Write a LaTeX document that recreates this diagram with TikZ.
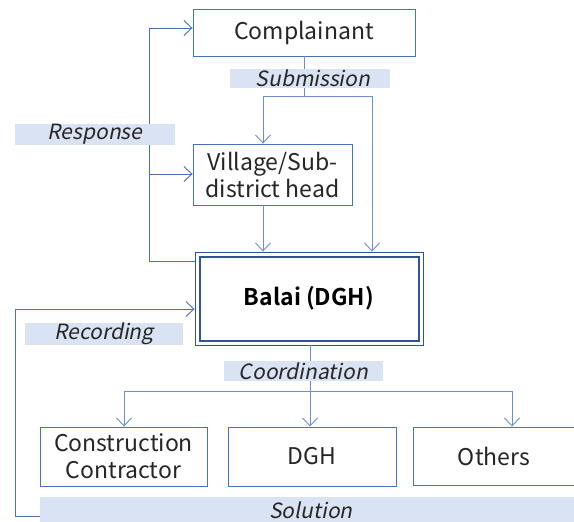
\documentclass[tikz,border=0pt]{standalone}
\usepackage{fontspec}
\setmainfont{Noto Sans CJK JP}[ItalicFont=Noto Sans CJK JP, ItalicFeatures={FakeSlant=0.2}, BoldFont=Noto Sans CJK JP Bold]
\usetikzlibrary{arrows.meta}
\definecolor{boxc}{HTML}{4472C4}
\definecolor{balc}{HTML}{2F5597}
\definecolor{linec}{HTML}{6A90D2}
\definecolor{respc}{HTML}{4A6FB5}
\definecolor{lblc}{HTML}{DAE3F3}
\definecolor{txtc}{HTML}{262626}
\begin{document}
\begin{tikzpicture}[x=1pt,y=-1pt,
  box/.style={draw=boxc, line width=0.9pt, fill=white, text=txtc, align=center, inner sep=0pt, font=\fontsize{23}{27}\selectfont},
  lbl/.style={fill=lblc, text=txtc, inner sep=0pt, font=\fontsize{21}{23}\selectfont\itshape},
  conn/.style={draw=linec, line width=0.9pt},
  arr/.style={conn, -{Straight Barb[length=8pt,width=15pt,line width=0.9pt]}},
  rconn/.style={draw=respc, line width=0.9pt},
  rarr/.style={rconn, -{Straight Barb[length=8pt,width=15pt,line width=0.9pt]}}]
\useasboundingbox (0,0) rectangle (574,522);
\clip (0,0) rectangle (574,522);
\fill[white] (0,0) rectangle (574,522);
% boxes
\node[box, minimum width=222pt, minimum height=47pt] (comp) at (304,32.5) {Complainant};
\node[box, minimum width=159pt, minimum height=61pt] (vill) at (272.5,174.5) {Village/Sub-\\district head};
\node[draw=balc, line width=0.9pt, fill=white, minimum width=228pt, minimum height=93pt, inner sep=0pt] (balai) at (309,298.5) {};
\node[draw=balc, line width=2pt, minimum width=219pt, minimum height=84pt, inner sep=0pt, text=black, font=\fontsize{23}{25}\selectfont\bfseries] (balin) at (309,298.5) {Balai (DGH)};
\node[box, minimum width=167pt, minimum height=59pt] (cc) at (123.5,456.5) {Construction\\Contractor};
\node[box, minimum width=168pt, minimum height=59pt] (dgh) at (312,456.5) {DGH};
\node[box, minimum width=177pt, minimum height=58pt, text width=177pt] (oth) at (501.5,456) {\hspace*{-15pt}Others};
% coordinates
\coordinate (split) at (304,96);
\coordinate (sl) at (263,96);
\coordinate (sr) at (372,96);
\coordinate (rtop) at (149,28);
\coordinate (rmid) at (149,174);
\coordinate (rbot) at (149,261);
\coordinate (recb) at (15,516);
\coordinate (rect) at (15,309);
\coordinate (csplit) at (310,391);
\coordinate (cl) at (124,391);
\coordinate (cr) at (512,391);
% connectors
\draw[conn] (comp.south) -- (split);
\draw[conn] (sl) -- (sr);
\draw[arr] (sl) -- (sl |- vill.north);
\draw[arr] (sr) -- (sr |- balai.north);
\draw[arr] (sl |- vill.south) -- (sl |- balai.north);
\draw[rconn] (balai.west |- rbot) -- (rbot) -- (rtop);
\draw[rarr] (rtop) -- (comp.west |- rtop);
\draw[rarr] (rmid) -- (vill.west |- rmid);
\draw[conn] (balai.south -| csplit) -- (csplit);
\draw[conn] (cl) -- (cr);
\draw[arr] (cl) -- (cl |- cc.north);
\draw[arr] (csplit) -- (csplit |- dgh.north);
\draw[arr] (cr) -- (cr |- oth.north);
% solution bar
\node[lbl, minimum width=542pt, minimum height=30pt, anchor=north west] (sol) at (40,497) {};
\node[lbl, fill=none] (soltxt) at (311,510) {Solution};
\draw[rconn] (sol.west |- recb) -- (recb) -- (rect);
\draw[rarr] (rect) -- (balai.west |- rect);
% labels
\node[lbl, minimum width=160pt, minimum height=19pt] (sub) at (310,78.5) {\hspace*{6pt}Submission};
\node[lbl, minimum width=160pt, minimum height=19pt] (resp) at (95,134.5) {Response};
\node[lbl, minimum width=158pt, minimum height=20pt] (rec) at (104,334) {Recording};
\node[lbl, minimum width=159pt, minimum height=20pt] (coord) at (303.5,371) {Coordination};
\end{tikzpicture}
\end{document}
